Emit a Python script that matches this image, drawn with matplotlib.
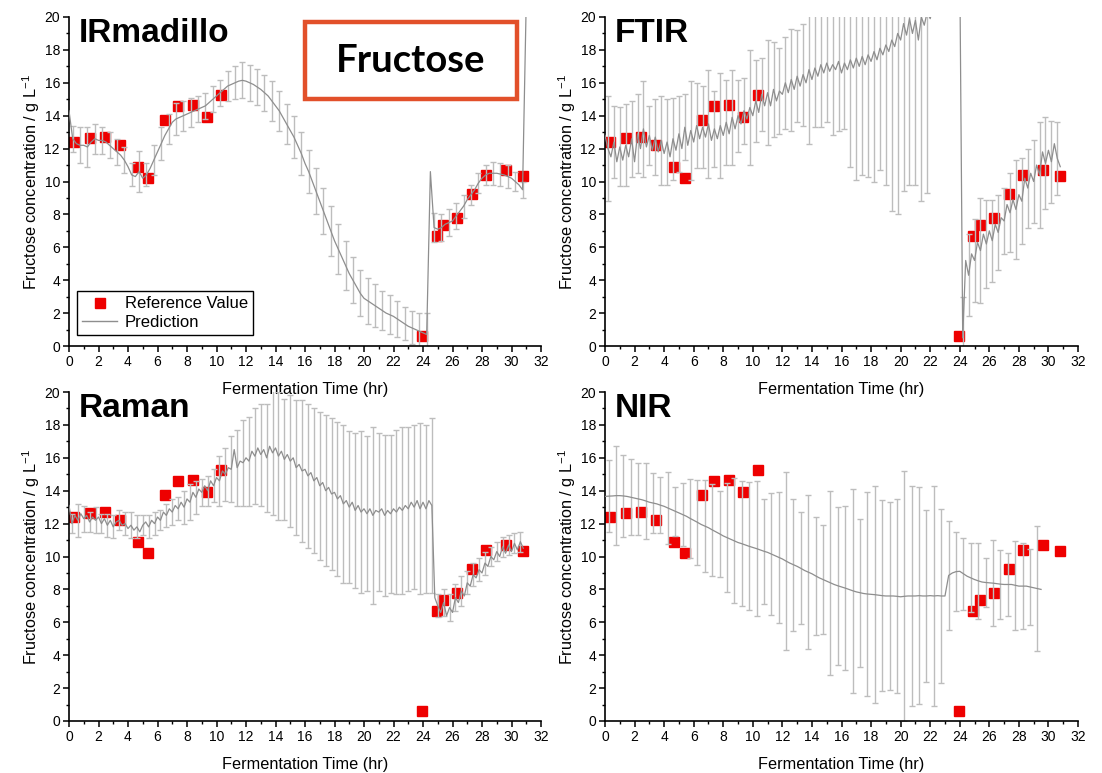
import numpy as np
import matplotlib
matplotlib.use("Agg")
import matplotlib.pyplot as plt
from matplotlib.patches import Rectangle
from matplotlib.lines import Line2D
from matplotlib.ticker import MultipleLocator

plt.rcParams['font.family'] = ['Liberation Sans', 'DejaVu Sans']
plt.rcParams['mathtext.default'] = 'regular'

# ---------------- data ----------------
ref_time = [0.31, 1.41, 2.41, 3.43, 4.67, 5.38, 6.53, 7.39, 8.39, 9.34, 10.32,
            23.92, 24.92, 25.37, 26.30, 27.30, 28.30, 29.60, 30.78]
ref_value = [12.38, 12.63, 12.71, 12.20, 10.87, 10.20, 13.72, 14.59, 14.65, 13.90, 15.27,
             0.59, 6.67, 7.35, 7.80, 9.21, 10.42, 10.71, 10.32]

# IRmadillo prediction (0.25 h grid, 0 - 31 h)
ir_time = np.round(np.arange(0, 31.01, 0.25), 2)
ir_pred = [14.3, 12.6, 12.3, 12.2, 12.2, 12.1, 12.4, 12.6, 12.5, 12.5, 12.4, 12.2,
           12.0, 11.8, 11.6, 11.3, 10.9, 10.4, 10.3, 10.6, 10.2, 10.4, 10.8, 11.3,
           11.8, 12.3, 12.8, 13.2, 13.6, 13.8, 13.9, 14.0, 14.1, 14.2, 14.3, 14.4,
           14.5, 14.6, 14.8, 15.0, 15.2, 15.4, 15.6, 15.8, 15.9, 16.0, 16.1, 16.15,
           16.1, 16.0, 15.9, 15.75, 15.6, 15.4, 15.2, 14.9, 14.6, 14.3, 13.9, 13.5,
           13.1, 12.7, 12.2, 11.7, 11.1, 10.6, 10.0, 9.4, 8.8, 8.2, 7.6, 7.0,
           6.4, 5.9, 5.4, 4.9, 4.4, 4.0, 3.6, 3.2, 2.9, 2.75, 2.6, 2.45,
           2.3, 2.15, 2.0, 1.9, 1.8, 1.65, 1.5, 1.35, 1.2, 1.1, 1.0, 0.9,
           0.8, 0.7, 10.6, 7.2, 7.1, 7.2, 7.4, 7.5, 7.6, 7.9, 8.2, 8.5,
           8.9, 9.2, 9.5, 9.9, 10.2, 10.4, 10.5, 10.5, 10.5, 10.45, 10.4, 10.3,
           10.2, 10.0, 9.8, 9.5, 21.0]
# error half-widths at 0.25, 0.75, ... 30.75 h
ir_err = [0.8, 1.1, 1.2, 0.9, 0.8, 0.8, 0.8, 0.8, 0.7, 1.25,
          0.7, 0.9, 1.0, 0.9, 1.0, 0.9, 0.9, 0.8, 0.8, 0.8,
          0.8, 0.9, 1.0, 1.1, 1.1, 1.1, 1.1, 1.2, 1.2, 1.2,
          1.3, 1.3, 1.3, 1.4, 1.4, 1.5, 1.5, 1.5, 1.4, 1.4,
          1.4, 1.3, 1.2, 1.2, 1.1, 1.0, 1.0, 1.1, 1.3, 0.9,
          0.8, 0.8, 0.8, 0.7, 0.6, 0.6, 0.6, 0.7, 0.7, 0.7,
          0.6, 0.5]

# FTIR prediction (0.2 h grid, 0 - 30.8 h)
ftir_time = np.round(np.arange(0, 30.81, 0.2), 2)
ftir_pred = [12.8, 12.0, 11.5, 12.4, 11.2, 12.1, 11.3, 12.2, 11.5, 12.6,
             11.2, 12.9, 12.0, 13.2, 12.1, 12.8, 11.9, 12.7, 11.8, 12.5,
             11.7, 12.4, 11.5, 12.6, 11.9, 12.9, 12.0, 13.3, 12.2, 13.1,
             12.4, 13.4, 12.6, 13.3, 12.7, 13.5, 12.5, 13.2, 12.6, 13.4,
             12.8, 13.6, 12.9, 13.9, 13.2, 14.0, 13.5, 14.3, 13.8, 14.5,
             14.0, 14.9, 14.2, 15.3, 14.6, 15.4, 14.6, 15.6, 14.9, 15.5,
             15.3, 16.0, 15.4, 16.2, 15.6, 16.4, 15.8, 16.5, 16.0, 16.8,
             16.2, 16.9, 16.4, 17.1, 16.6, 17.2, 16.7, 17.1, 16.8, 17.3,
             16.6, 17.2, 16.8, 17.4, 16.9, 17.5, 17.0, 17.6, 17.1, 17.7,
             17.3, 17.9, 17.4, 18.1, 17.7, 18.3, 17.9, 18.6, 18.2, 19.0,
             18.6, 19.6, 18.9, 19.9, 19.0, 19.8, 18.6, 20.0, 19.5, 20.3,
             19.9, 20.6, 20.9, 21.3, 21.6, 21.9, 22.2, 22.5, 22.8, 23.0,
             23.2, 0.5, 5.2, 4.3, 5.6,
             5.2, 6.3, 5.8, 6.8, 6.2, 7.0, 6.4, 7.4, 6.9, 7.8,
             7.6, 8.6, 8.1, 8.9, 8.3, 9.2, 8.8, 10.2, 9.6, 10.5,
             10.0, 11.0, 10.4, 11.8, 11.1, 11.9, 11.2, 12.3, 11.4, 10.9]
# error half-widths at 0.2, 0.6, ... 30.6 h (nan = no bar)
ftir_err = [3.2, 2.2, 2.4, 2.5, 2.3, 2.4, 2.9, 1.8, 2.3, 2.7,
            2.6, 2.5, 2.3, 2.0, 3.0, 2.6, 2.5, 3.3, 2.3, 3.2,
            2.6, 2.9, 2.2, 2.0, 3.5, 2.5, 2.2, 3.2, 2.9, 2.6,
            2.8, 3.1, 2.8, 3.1, 4.5, 3.6, 3.8, 3.6, 4.3, 4.2,
            4.0, 6.5, 7.4, 7.2, 7.4, 7.9, 7.4, 8.5, 10.4, 11.0,
            10.2, 10.1, 10.0, 11.2, 11.0,
            np.nan, np.nan, np.nan, np.nan, np.nan,
            2.5, 2.5, 2.5, 3.2, 2.7, 2.5, 2.3, 2.0, 2.4, 3.0,
            2.6, 2.4, 2.5, 3.2, 2.8, 2.5, 2.2]

# Raman prediction (0.2 h grid, 0 - 30.8 h)
raman_time = np.round(np.arange(0, 30.81, 0.2), 2)
raman_pred = [13.1, 12.0, 12.5, 12.2, 12.6, 12.3, 12.5, 12.1, 12.4, 12.2,
              12.4, 12.0, 12.3, 11.9, 12.2, 11.8, 12.1, 12.2, 11.9, 12.0,
              11.7, 11.9, 11.6, 11.8, 11.5, 11.9, 12.1, 11.8, 12.2, 12.0,
              12.4, 12.2, 12.7, 12.5, 12.9, 12.7, 13.1, 12.9, 13.3, 13.0,
              13.5, 13.3, 13.9, 13.6, 14.1, 13.9, 14.3, 14.0, 14.6, 14.3,
              14.8, 14.6, 15.2, 15.0, 15.4, 15.3, 16.5, 15.4, 15.8, 15.7,
              16.0, 15.8, 16.4, 16.1, 16.6, 16.2, 16.5, 16.0, 16.7, 16.3,
              16.6, 16.1, 16.4, 15.9, 16.2, 15.8, 16.0, 15.4, 15.6, 15.2,
              15.3, 14.9, 15.1, 14.6, 14.8, 14.3, 14.5, 14.0, 14.2, 13.8,
              13.9, 13.5, 13.7, 13.2, 13.4, 13.0, 13.3, 12.8, 13.1, 12.7,
              12.9, 12.6, 12.9, 12.5, 12.8, 12.7, 12.9, 12.5, 12.8, 12.6,
              12.9, 12.7, 13.0, 12.8, 13.1, 12.9, 13.3, 13.0, 13.4, 12.9,
              13.3, 12.9, 13.4, 13.1, 7.5,
              7.0, 6.6, 7.2, 6.4, 6.9, 6.6, 7.5, 7.2, 7.9, 7.6,
              8.4, 8.2, 8.9, 8.7, 9.2, 9.0, 9.6, 9.4, 10.0, 9.8,
              10.3, 10.0, 10.6, 10.2, 10.7, 10.3, 10.8, 10.4, 10.9, 10.5]
raman_err = [0.6, 1.0, 0.8, 0.6, 0.8, 0.6, 0.7, 0.7, 0.6, 0.7,
             0.8, 0.7, 0.6, 0.7, 0.7, 0.6, 0.7, 0.8, 0.7, 1.0,
             1.1, 1.0, 0.8, 0.9, 1.0, 1.5, 1.6, 2.0, 2.3, 2.6,
             2.7, 2.9, 3.1, 3.3, 3.8, 3.9, 3.7, 4.0, 4.1, 4.3,
             4.4, 4.4, 4.5, 4.6, 4.6, 4.7, 4.8, 4.6, 4.7, 4.9,
             4.7, 5.4, 4.8, 4.9, 4.8, 5.0, 5.1, 5.0, 5.0, 5.2,
             5.1, 5.3, 0.7, 0.8, 0.8, 0.8, 0.9, 0.7, 0.7, 0.7,
             0.7, 0.6, 0.6, 0.6, 0.6, 0.6, 0.6]

# NIR prediction (0.25 h grid, 0 - 29.5 h)
nir_time = np.round(np.arange(0, 29.51, 0.25), 2)
nir_pred = [13.65, 13.67, 13.68, 13.7, 13.7, 13.68, 13.65, 13.6,
            13.55, 13.5, 13.45, 13.38, 13.3, 13.25, 13.2, 13.12,
            13.05, 12.95, 12.85, 12.75, 12.65, 12.55, 12.45, 12.32,
            12.2, 12.08, 11.95, 11.85, 11.75, 11.62, 11.5, 11.38,
            11.25, 11.15, 11.05, 10.95, 10.85, 10.78, 10.7, 10.62,
            10.55, 10.48, 10.4, 10.32, 10.25, 10.15, 10.05, 9.95,
            9.85, 9.72, 9.6, 9.5, 9.4, 9.28, 9.15, 9.05,
            8.95, 8.82, 8.7, 8.6, 8.5, 8.4, 8.3, 8.22,
            8.15, 8.08, 8.0, 7.92, 7.85, 7.8, 7.75, 7.72,
            7.7, 7.68, 7.65, 7.62, 7.6, 7.6, 7.6, 7.58,
            7.55, 7.58, 7.6, 7.6, 7.6, 7.62, 7.6, 7.6,
            7.62, 7.6, 7.62, 7.6, 7.6, 8.85, 9.0, 9.08,
            9.1, 8.95, 8.8, 8.7, 8.6, 8.52, 8.45, 8.42,
            8.4, 8.38, 8.35, 8.32, 8.3, 8.3, 8.3, 8.25,
            8.2, 8.2, 8.2, 8.15, 8.1, 8.05, 8.0]
nir_err = [2.2, 3.0, 2.5, 2.3, 2.2, 2.3, 1.8, 1.7, 2.2, 1.5,
           1.9, 2.4, 2.6, 2.8, 2.8, 2.6, 3.3, 3.8, 3.8, 3.9,
           4.1, 3.2, 3.7, 4.0, 5.4, 4.0, 3.4, 4.7, 3.6, 3.3,
           5.6, 4.8, 5.0, 6.2, 4.5, 6.2, 6.6, 5.8, 5.7, 5.9,
           7.6, 6.7, 6.6, 5.2, 6.7, 5.3, 3.3, 2.4, 2.2, 2.1,
           2.3, 1.5, 2.6, 2.1, 1.9, 2.7, 2.6, 2.3, 3.8]

panels = [
    ("IRmadillo", ir_time, ir_pred, ir_err),
    ("FTIR", ftir_time, ftir_pred, ftir_err),
    ("Raman", raman_time, raman_pred, raman_err),
    ("NIR", nir_time, nir_pred, nir_err),
]

# ---------------- figure ----------------
W, H = 1102, 773
fig = plt.figure(figsize=(W / 100, H / 100), dpi=100)

boxes = [(69, 17, 541, 346), (605, 17, 1078, 346),
         (69, 392, 541, 721), (605, 392, 1078, 721)]

line_col = '#8e8e8e'
err_col = '#bdbdbd'
red = '#ee0000'

for (name, t, pred, err), (x0, y0, x1, y1) in zip(panels, boxes):
    ax = fig.add_axes([x0 / W, 1 - y1 / H, (x1 - x0) / W, (y1 - y0) / H])
    ax.patch.set_visible(False)
    t = np.asarray(t)
    pred = np.asarray(pred, dtype=float)
    err = np.asarray(err, dtype=float)
    et = t[1::2][:len(err)]
    ey = pred[1::2][:len(err)]
    m = ~np.isnan(err)

    ax.plot(ref_time, ref_value, 's', color=red, ms=7, mec=red, zorder=1,
            label='Reference Value')
    ax.errorbar(et[m], ey[m], yerr=err[m], fmt='none', ecolor=err_col,
                elinewidth=1.0, capsize=2.5, capthick=1.0, zorder=2)
    ax.plot(t, pred, '-', color=line_col, lw=0.9, zorder=3, label='Prediction')

    ax.set_xlim(0, 32)
    ax.set_ylim(0, 20)
    ax.xaxis.set_major_locator(MultipleLocator(2))
    ax.xaxis.set_minor_locator(MultipleLocator(1))
    ax.yaxis.set_major_locator(MultipleLocator(2))
    ax.yaxis.set_minor_locator(MultipleLocator(1))
    for s in ['top', 'right']:
        ax.spines[s].set_visible(False)
    for s in ['left', 'bottom']:
        ax.spines[s].set_linewidth(1.2)
    ax.tick_params(which='major', direction='out', length=4.5, width=1.1,
                   labelsize=10, pad=2)
    ax.tick_params(which='minor', direction='out', length=2.5, width=1.0)
    ax.set_xlabel('Fermentation Time (hr)', fontsize=11.7, labelpad=9)
    ax.set_ylabel('Fructose concentration / g L$^{-1}$', fontsize=11.7, labelpad=2)
    ax.text(0.02, 0.998, name, transform=ax.transAxes, fontsize=24,
            fontweight='bold', va='top', ha='left')

    if name == 'IRmadillo':
        handles = [Line2D([], [], marker='s', ls='none', color=red, ms=6.5),
                   Line2D([], [], color=line_col, lw=1.0)]
        leg = ax.legend(handles, ['Reference Value', 'Prediction'],
                        loc='lower left', bbox_to_anchor=(0.017, 0.033),
                        borderaxespad=0, fontsize=12, frameon=True,
                        fancybox=False, edgecolor='black', framealpha=1,
                        handlelength=2.1, handletextpad=0.45,
                        borderpad=0.32, labelspacing=0.2)
        leg.get_frame().set_linewidth(1.0)

# Fructose box
fig.patches.append(Rectangle((305 / W, 1 - 99 / H), 212 / W, 77 / H,
                             transform=fig.transFigure, fill=False,
                             edgecolor='#e2502a', linewidth=3.2))
fig.text(411 / W, 1 - 61 / H, 'Fructose', fontsize=27.5, fontweight='bold',
         family=['Lato', 'DejaVu Sans'], ha='center', va='center')

fig.savefig('out.png', dpi=100)
